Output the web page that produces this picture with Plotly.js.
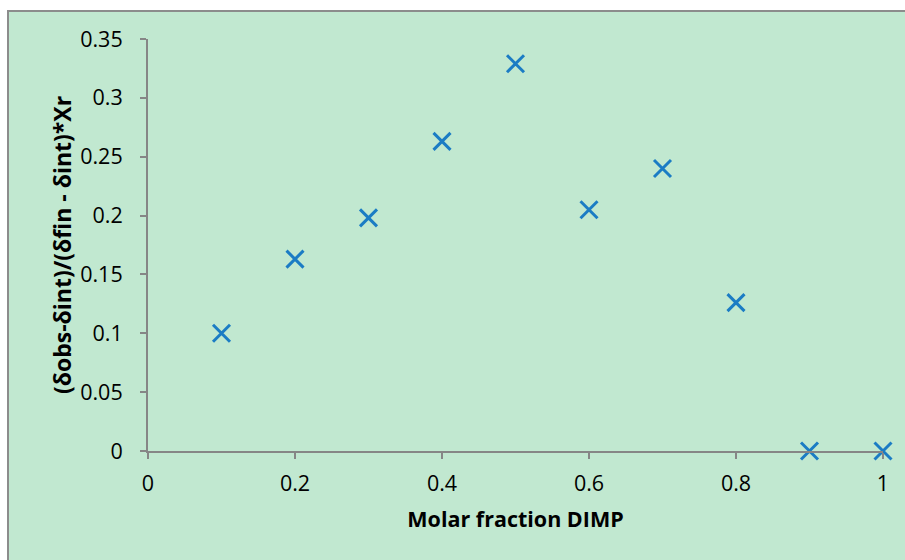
<!DOCTYPE html>
<html>
<head>
<meta charset="utf-8">
<script src="https://cdn.plot.ly/plotly-3.0.1.min.js"></script>
<style>
html,body{margin:0;padding:0;background:#ffffff;width:905px;height:560px;overflow:hidden;}
#frame{position:absolute;left:7px;top:10px;width:898px;height:550px;border-left:2px solid #8c8c8c;border-top:2px solid #8c8c8c;background:#c1e8d0;}
#chart{position:absolute;left:0;top:0;width:898px;height:550px;}
</style>
</head>
<body>
<div id="frame"><div id="chart"></div></div>
<script>
const molarFraction = [0.1, 0.2, 0.3, 0.4, 0.5, 0.6, 0.7, 0.8, 0.9, 1.0];
const jobValues = [0.100, 0.163, 0.198, 0.263, 0.329, 0.205, 0.240, 0.126, 0.0, 0.0];
const xTitle = 'Molar fraction DIMP';
const yTitle = '(δobs-δint)/(δfin - δint)*Xr';

const font = '"Open Sans", "Liberation Sans", sans-serif';
const W = 898, H = 550, offX = 9, offY = 12;

const trace = {
  x: molarFraction,
  y: jobValues,
  type: 'scatter',
  mode: 'markers',
  cliponaxis: false,
  marker: {symbol: 'x-thin', size: 17, color: '#1b7cc4', line: {width: 3, color: '#1b7cc4'}},
  hoverinfo: 'x+y'
};

const layout = {
  width: W, height: H,
  paper_bgcolor: '#c1e8d0',
  plot_bgcolor: '#c1e8d0',
  showlegend: false,
  margin: {l: 148 - offX, r: W + offX - 883, t: 39 - offY, b: H + offY - 451, pad: 0},
  font: {family: font, size: 21, color: '#000000'},
  xaxis: {
    range: [0, 1], dtick: 0.2, tick0: 0,
    showgrid: false, zeroline: false,
    showline: true, linecolor: '#868686', linewidth: 2,
    ticks: 'outside', ticklen: 6, tickwidth: 2, tickcolor: '#868686',
    ticklabelstandoff: 6,
    tickfont: {family: font, size: 21.5, color: '#000'},
    title: {text: xTitle, font: {family: font, size: 21.5, color: '#000', weight: 'bold'}, standoff: 16}
  },
  yaxis: {
    range: [0, 0.35], dtick: 0.05, tick0: 0,
    showgrid: false, zeroline: false,
    showline: true, linecolor: '#868686', linewidth: 2,
    ticks: 'outside', ticklen: 6, tickwidth: 2, tickcolor: '#868686',
    ticklabelstandoff: 13,
    tickfont: {family: font, size: 21.5, color: '#000'},
    title: {text: yTitle, font: {family: font, size: 23, color: '#000', weight: 'bold'}, standoff: 2}
  }
};

Plotly.newPlot('chart', [trace], layout, {displayModeBar: false, staticPlot: true});
</script>
</body>
</html>
